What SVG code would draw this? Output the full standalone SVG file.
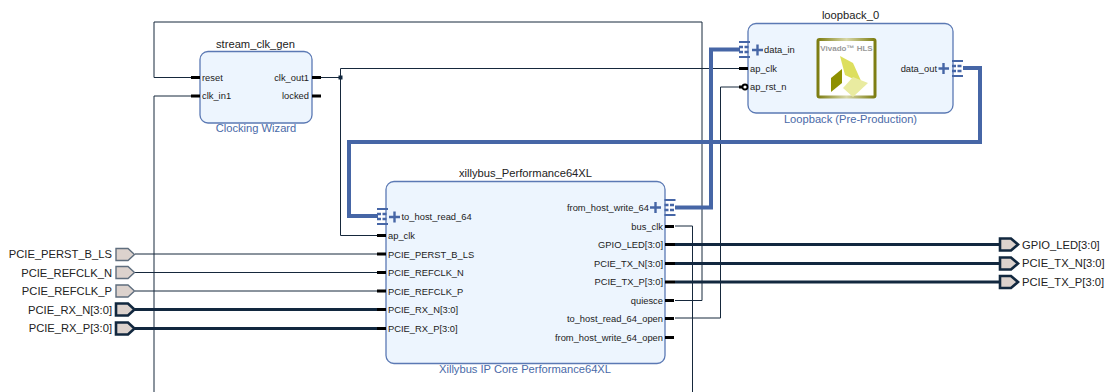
<svg xmlns="http://www.w3.org/2000/svg" width="1110" height="392" viewBox="0 0 1110 392">
<style>
text{font-family:"Liberation Sans",Arial,sans-serif;fill:#222}
.t{font-size:11.2px;text-anchor:middle}
.s{font-size:11.15px;text-anchor:middle;fill:#4a6aa8}
.p{font-size:9.35px}
.e{text-anchor:end}
.x{font-size:11.2px}
.box{fill:#edf5fe;stroke:#5b79b4;stroke-width:1.3}
.w{fill:none;stroke:#16283c;stroke-width:1}
.b{fill:none;stroke:#12283f;stroke-width:3}
.st{fill:none;stroke:#4666a6;stroke-width:4}
.stub{stroke:#000;stroke-width:3}
.plus{stroke:#4666a6;stroke-width:2.4;fill:none}
.port{fill:#dcd2cd;stroke:#5f6e7e;stroke-width:1.4}
.bport{fill:#dcd2cd;stroke:#12283f;stroke-width:2.6}
.ic{stroke:#4666a6;stroke-width:2;fill:none}
.icd{stroke:#4666a6;stroke-width:2.5;stroke-dasharray:4 1.5;fill:none}
</style>
<defs>
<linearGradient id="rim" x1="0" y1="0" x2="1" y2="0"><stop offset="0" stop-color="#7d7d12"/><stop offset=".5" stop-color="#d8d8a8"/><stop offset="1" stop-color="#7d7d12"/></linearGradient>
<g id="bif"><path class="ic" d="M0-7.500H11M0 7.500H11"/><path class="icd" d="M0-2.500H11M0 2.500H11"/></g>
</defs>
<g id="connectors">
<path class="w" d="M191 77.500H154V22H702V300.500H675"/>
<path class="w" d="M191 96H154V392"/>
<path class="w" d="M321 77.500H340.500M340.500 77.500V68.500H740M340.500 77.500V235.500H378"/>
<rect x="338.500" y="75.500" width="4" height="4" fill="#12283f"/>
<path class="w" d="M675 226H692.500V392"/>
<path class="w" d="M675 318H720.500V87H743"/>
<path class="st" d="M963 68H980V142H349V216H378"/>
<path class="st" d="M675 207.500H711V49.500H740"/>
<path class="w" d="M135 254H378"/>
<path class="w" d="M135 272.500H378"/>
<path class="w" d="M135 291H378"/>
<path class="b" d="M135 309.500H378M135 328.500H378"/>
<path class="b" d="M675 244.500H1000M675 263.500H1000M675 282H1000"/>
</g>
<g id="stream_clk_gen">
<text class="t" x="255.500" y="47.500">stream_clk_gen</text>
<rect class="box" x="200" y="51.500" width="112" height="71.500" rx="8"/>
<path class="stub" d="M191 77.500H200M191 96H200M312 77.500H321M312 96H321"/>
<text class="p" x="202" y="80.500">reset</text>
<text class="p" x="202" y="99">clk_in1</text>
<text class="p e" x="309" y="80.500">clk_out1</text>
<text class="p e" x="309" y="99">locked</text>
<text class="s" x="256" y="132">Clocking Wizard</text>
</g>
<g id="loopback_0">
<text class="t" x="850.500" y="19">loopback_0</text>
<rect class="box" x="748" y="23.500" width="205" height="89.500" rx="8"/>
<use href="#bif" x="739" y="49.500"/>
<use href="#bif" x="952" y="68.500"/>
<path class="plus" d="M752 50H763M757.500 44.500V55.500M938.500 68.500H949M943.500 63V74"/>
<path class="stub" d="M739 68.500H748M739 87H745"/>
<circle cx="745" cy="87" r="2.500" fill="#fff" stroke="#000" stroke-width="1.800"/>
<text class="p" x="764" y="53">data_in</text>
<text class="p" x="750" y="72">ap_clk</text>
<text class="p" x="750" y="90">ap_rst_n</text>
<text class="p e" x="937" y="72">data_out</text>
<g id="hls_logo">
<rect x="818" y="39.500" width="57" height="57.500" rx="1.500" fill="#fff" stroke="url(#rim)" stroke-width="3"/>
<text x="846.500" y="51" font-size="8px" font-weight="bold" text-anchor="middle" style="fill:#9a9a9a">Vivado™ HLS</text>
<polygon points="840,56 853,63 862,83 845,75" fill="#dddf5e"/>
<polygon points="842,69 842,83 831,92 831,78" fill="#8e9000"/>
<polygon points="853,77 868,83 853,97 843,88" fill="#e9eba0"/>
</g>
<text class="s" x="850.500" y="123">Loopback (Pre-Production)</text>
</g>
<g id="xillybus_Performance64XL">
<text class="t" x="525.500" y="177">xillybus_Performance64XL</text>
<rect class="box" x="386" y="181.500" width="279" height="182" rx="8"/>
<use href="#bif" x="377" y="216.500"/>
<use href="#bif" x="664.500" y="207.500"/>
<path class="plus" d="M389 217H400M394.500 211.500V222.500M650 207.500H661M655.500 202V213"/>
<path class="stub" d="M377 235.500H386M665 226.500H674M665 300.500H674M665 318.500H674M665 337.500H674M377 254H386M377 272.500H386M377 291H386"/>
<path class="stub" d="M377 309.500H386M377 328.500H386" stroke-width="4"/>
<path class="stub" d="M665 244.500H675M665 263.500H675M665 282H675" stroke-width="4"/>
<text class="p" x="401.500" y="220">to_host_read_64</text>
<text class="p" x="388" y="239">ap_clk</text>
<text class="p" x="388" y="257.500">PCIE_PERST_B_LS</text>
<text class="p" x="388" y="276">PCIE_REFCLK_N</text>
<text class="p" x="388" y="295">PCIE_REFCLK_P</text>
<text class="p" x="388" y="313">PCIE_RX_N[3:0]</text>
<text class="p" x="388" y="332">PCIE_RX_P[3:0]</text>
<text class="p e" x="649" y="211">from_host_write_64</text>
<text class="p e" x="663" y="229.500">bus_clk</text>
<text class="p e" x="663" y="248">GPIO_LED[3:0]</text>
<text class="p e" x="663" y="267">PCIE_TX_N[3:0]</text>
<text class="p e" x="663" y="285">PCIE_TX_P[3:0]</text>
<text class="p e" x="663" y="304">quiesce</text>
<text class="p e" x="663" y="322">to_host_read_64_open</text>
<text class="p e" x="663" y="341">from_host_write_64_open</text>
<text class="s" x="525" y="373">Xillybus IP Core Performance64XL</text>
</g>
<g id="PCIE_PERST_B_LS"><polygon class="port" points="116,248.500 128,248.500 134.500,254.500 128,260.500 116,260.500"/><text class="x e" x="112" y="258">PCIE_PERST_B_LS</text></g>
<g id="PCIE_REFCLK_N"><polygon class="port" points="116,266.500 128,266.500 134.500,272.500 128,278.500 116,278.500"/><text class="x e" x="112" y="276.500">PCIE_REFCLK_N</text></g>
<g id="PCIE_REFCLK_P"><polygon class="port" points="116,285 128,285 134.500,291 128,297 116,297"/><text class="x e" x="112" y="294.500">PCIE_REFCLK_P</text></g>
<g id="PCIE_RX_N"><polygon class="bport" points="116,303.500 128,303.500 134.500,309.500 128,315.500 116,315.500"/><text class="x e" x="112" y="313.500">PCIE_RX_N[3:0]</text></g>
<g id="PCIE_RX_P"><polygon class="bport" points="116,322.500 128,322.500 134.500,328.500 128,334.500 116,334.500"/><text class="x e" x="112" y="332">PCIE_RX_P[3:0]</text></g>
<g id="GPIO_LED"><polygon class="bport" points="1000,238.500 1011,238.500 1018,244.500 1011,250.500 1000,250.500"/><text class="x" x="1022" y="248.500">GPIO_LED[3:0]</text></g>
<g id="PCIE_TX_N"><polygon class="bport" points="1000,257.500 1011,257.500 1018,263.500 1011,269.500 1000,269.500"/><text class="x" x="1022" y="267">PCIE_TX_N[3:0]</text></g>
<g id="PCIE_TX_P"><polygon class="bport" points="1000,276 1011,276 1018,282 1011,288 1000,288"/><text class="x" x="1022" y="285.500">PCIE_TX_P[3:0]</text></g>
</svg>
